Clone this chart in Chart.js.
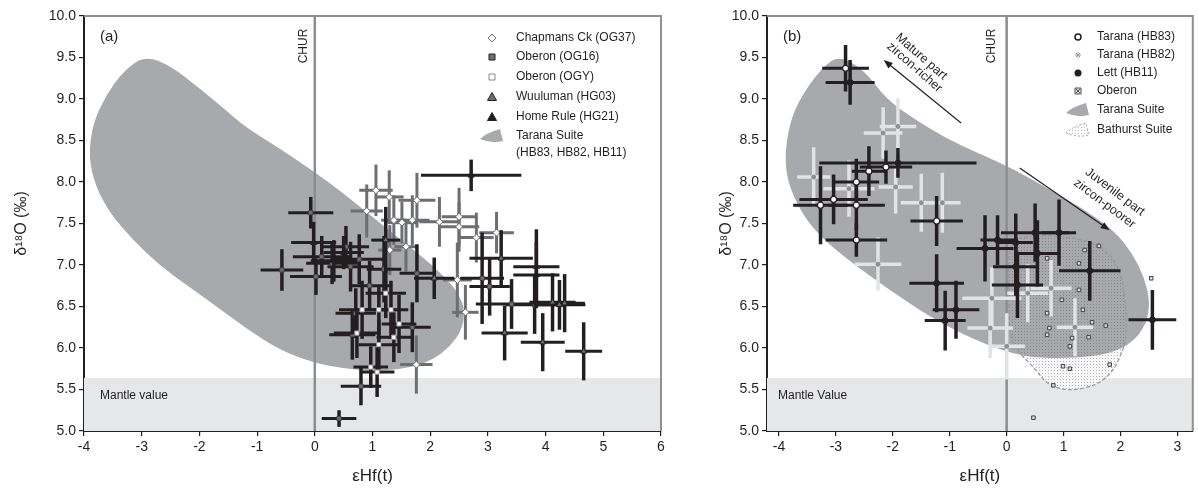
<!DOCTYPE html>
<html>
<head>
<meta charset="utf-8">
<script src="https://cdn.jsdelivr.net/npm/chart.js@4.4.1/dist/chart.umd.min.js"></script>
<style>
  body { margin: 0; background: #fff; width: 1198px; height: 495px; overflow: hidden; position: relative; }
  .panel { position: absolute; top: 0; }
  #wrapA { left: 0; }
  #wrapB { left: 690px; }
</style>
</head>
<body>
<div class="panel" id="wrapA"><canvas id="chartA" width="680" height="495"></canvas></div>
<div class="panel" id="wrapB"><canvas id="chartB" width="508" height="495"></canvas></div>
<script>
// ---- shared look ----
const FONT = "'Liberation Sans', Arial, sans-serif";
const INK = '#231f20';
const SUITE_GREY = '#a7a9ac';
const MANTLE_GREY = '#e6e7e8';
const MID_GREY = '#6d6e71';
const LIGHT_CROSS = '#e2e3e4';
const MANTLE_TOP = 5.64;

// ---- tick labels ----
const yTicks = [5.0, 5.5, 6.0, 6.5, 7.0, 7.5, 8.0, 8.5, 9.0, 9.5, 10.0];
const xTicksA = [-4, -3, -2, -1, 0, 1, 2, 3, 4, 5, 6];
const xTicksB = [-4, -3, -2, -1, 0, 1, 2, 3];

// ---- panel (a) data ----
// Chapmans Ck (OG37)
const chapX  = [0.90, 1.06, 1.29, 1.37, 1.51, 1.58, 1.69, 1.77, 2.16, 2.50, 2.50, 2.80, 3.15, 2.47, 2.61, 1.76, 1.30];
const chapY  = [7.65, 7.90, 7.82, 7.54, 7.51, 7.22, 7.54, 7.78, 7.52, 7.58, 7.46, 7.33, 7.39, 6.82, 6.43, 5.80, 7.18];
const chapXe = [0.28, 0.29, 0.25, 0.22, 0.25, 0.20, 0.30, 0.32, 0.35, 0.30, 0.35, 0.30, 0.30, 0.25, 0.23, 0.28, 0.20];
const chapYe = [0.32, 0.31, 0.32, 0.30, 0.25, 0.30, 0.30, 0.33, 0.30, 0.35, 0.30, 0.30, 0.25, 0.45, 0.33, 0.35, 0.30];
// Oberon (OG16)
const og16X  = [-0.07, -0.57, 0.02, 0.12, 0.54, 0.77, 0.42, 0.80, 0.65, 0.71, 1.69, 1.77, 2.90, 3.03, 3.41, 3.81, 0.30, 0.62, 0.95, 1.20];
const og16Y  = [7.63, 6.94, 6.86, 7.10, 7.22, 7.07, 5.15, 5.54, 6.16, 6.42, 6.25, 6.90, 6.84, 6.74, 6.53, 6.52, 7.02, 6.98, 6.75, 6.95];
const og16Xe = [0.39, 0.37, 0.45, 0.50, 0.40, 0.45, 0.30, 0.35, 0.40, 0.35, 0.32, 0.30, 0.38, 0.35, 0.62, 0.50, 0.45, 0.40, 0.35, 0.30];
const og16Ye = [0.19, 0.25, 0.22, 0.25, 0.25, 0.30, 0.10, 0.23, 0.30, 0.30, 0.30, 0.35, 0.55, 0.35, 0.30, 0.35, 0.25, 0.30, 0.30, 0.40];
// Oberon (OGY)
const ogyX  = [0.97, 1.08, 1.11, 1.46, 0.82, 1.11, 1.23, 1.32, 1.37, 0.73];
const ogyY  = [5.77, 5.71, 6.04, 6.29, 6.46, 6.46, 6.66, 6.46, 6.13, 6.18];
const ogyXe = [0.30, 0.30, 0.35, 0.30, 0.40, 0.30, 0.35, 0.30, 0.30, 0.40];
const ogyYe = [0.25, 0.30, 0.30, 0.35, 0.35, 0.30, 0.30, 0.35, 0.30, 0.30];
// Wuuluman (HG03)
const wuuX  = [2.07, 3.23, 3.84, 4.12, 4.24, 4.33, 3.29, 3.95, 4.66, 1.23];
const wuuY  = [6.84, 7.08, 6.98, 6.55, 6.52, 6.54, 6.18, 6.07, 5.96, 7.30];
const wuuXe = [0.35, 0.55, 0.40, 0.40, 0.45, 0.35, 0.40, 0.38, 0.32, 0.25];
const wuuYe = [0.25, 0.34, 0.45, 0.35, 0.30, 0.35, 0.33, 0.35, 0.35, 0.40];
// Home Rule (HG21)
const homeX  = [2.71, 3.84, -0.02, 0.33, 0.50];
const homeY  = [8.08, 6.88, 7.27, 7.05, 7.15];
const homeXe = [0.87, 0.40, 0.39, 0.40, 0.35];
const homeYe = [0.19, 0.40, 0.25, 0.25, 0.20];
// Tarana Suite field, panel (a)
const suiteAX = [-2.94, -2.5, -2.0, -1.55, -1.2, -0.6, 0.0, 0.5, 1.0, 1.5, 2.0, 2.3, 2.5, 2.6, 2.55, 2.35, 2.05, 1.65, 1.1, 0.5, 0.0, -0.6, -1.2, -1.7, -2.2, -2.7, -3.15, -3.55, -3.8, -3.92, -3.85, -3.62, -3.3];
const suiteAY = [9.52, 9.4, 9.13, 8.87, 8.66, 8.4, 8.12, 7.86, 7.58, 7.3, 7.02, 6.82, 6.65, 6.45, 6.22, 6.02, 5.86, 5.76, 5.72, 5.75, 5.82, 5.97, 6.24, 6.5, 6.75, 7.0, 7.3, 7.62, 7.95, 8.3, 8.7, 9.05, 9.35];

// ---- panel (b) data ----
// Tarana (HB83)
const hb83X  = [-2.83, -2.64, -3.04, -3.27, -2.64, -2.64, -2.12, -2.42, -1.23];
const hb83Y  = [9.37, 8.00, 7.79, 7.72, 7.72, 7.30, 8.18, 8.13, 7.53];
const hb83Xe = [0.41, 0.40, 0.60, 0.48, 0.50, 0.54, 0.46, 0.30, 0.46];
const hb83Ye = [0.28, 0.28, 0.30, 0.47, 0.30, 0.20, 0.20, 0.30, 0.30];
// Tarana (HB82)
const hb82X  = [-2.17, -1.91, -3.39, -2.77, -1.95, -1.50, -1.13, -2.26, -0.26, -0.29, 0.00, 0.37, 0.78, 1.20];
const hb82Y  = [8.59, 8.67, 8.06, 7.92, 7.94, 7.75, 7.75, 7.01, 6.60, 6.24, 6.02, 6.66, 6.72, 6.25];
const hb82Xe = [0.34, 0.32, 0.29, 0.45, 0.30, 0.36, 0.32, 0.41, 0.52, 0.40, 0.32, 0.36, 0.36, 0.32];
const hb82Ye = [0.31, 0.34, 0.36, 0.34, 0.32, 0.35, 0.36, 0.32, 0.37, 0.36, 0.40, 0.35, 0.34, 0.35];
// Lett (HB11)
const lettX  = [-2.75, -1.91, -1.23, -0.89, -1.08, -0.38, 0.16, 0.19, 1.46, 2.56, -0.16, 0.16, 0.50, 0.92, 0.54];
const lettY  = [9.20, 8.23, 6.78, 6.46, 6.33, 7.20, 6.98, 6.76, 6.93, 6.34, 7.30, 7.27, 7.39, 7.39, 7.14];
const lettXe = [0.43, 1.38, 0.48, 0.41, 0.36, 0.50, 0.40, 0.45, 0.54, 0.42, 0.30, 0.30, 0.60, 0.30, 0.40];
const lettYe = [0.27, 0.18, 0.35, 0.35, 0.36, 0.40, 0.35, 0.40, 0.36, 0.36, 0.30, 0.35, 0.35, 0.40, 0.40];
// Oberon (no error bars shown)
const oberX = [1.37, 1.62, 1.27, 1.27, 0.97, 1.34, 0.71, 1.50, 1.74, 0.75, 0.71, 1.15, 1.44, 1.11, 0.99, 1.11, 1.81, 0.82, 0.47, 2.54, 0.71];
const oberY = [7.18, 7.23, 7.02, 6.70, 6.58, 6.46, 6.42, 6.31, 6.27, 6.24, 6.16, 6.12, 6.13, 6.02, 5.78, 5.75, 5.80, 5.55, 5.16, 6.84, 7.08];
// Tarana Suite field, panel (b)
const suiteBX = [-2.94, -2.5, -2.12, -1.6, -1.05, -0.5, 0.14, 0.7, 1.29, 1.88, 2.2, 2.42, 2.52, 2.45, 2.2, 1.8, 1.2, 0.6, 0.1, -0.5, -1.3, -2.1, -2.9, -3.35, -3.62, -3.85, -3.9, -3.78, -3.5, -3.2];
const suiteBY = [9.52, 9.35, 9.0, 8.75, 8.52, 8.35, 8.15, 7.93, 7.7, 7.42, 7.15, 6.85, 6.55, 6.28, 6.06, 5.93, 5.88, 5.88, 5.93, 6.08, 6.35, 6.72, 7.12, 7.4, 7.65, 8.0, 8.35, 8.8, 9.15, 9.4];
// Bathurst Suite field
const bathX = [0.05, 0.6, 1.2, 1.7, 2.0, 2.1, 2.1, 2.0, 1.85, 1.55, 1.05, 0.7, 0.5, 0.25, 0.05, 0.03];
const bathY = [7.32, 7.36, 7.33, 7.22, 6.95, 6.5, 6.1, 5.9, 5.7, 5.54, 5.48, 5.57, 5.75, 5.92, 6.1, 6.8];

// ---- helpers ----
function series(label, xs, ys, xe, ye, style) {
  return Object.assign({
    label: label,
    data: xs.map((v, i) => ({ x: v, y: ys[i] })),
    xErr: xe,
    yErr: ye
  }, style);
}

function smoothClosed(ctx, pts) {
  const n = pts.length;
  const mid = (a, b) => [(a[0] + b[0]) / 2, (a[1] + b[1]) / 2];
  const m0 = mid(pts[n - 1], pts[0]);
  ctx.moveTo(m0[0], m0[1]);
  for (let i = 0; i < n; i++) {
    const p = pts[i];
    const m = mid(p, pts[(i + 1) % n]);
    ctx.quadraticCurveTo(p[0], p[1], m[0], m[1]);
  }
  ctx.closePath();
}

let dotPattern = null;
function getDots(ctx) {
  if (dotPattern) return dotPattern;
  const c = document.createElement('canvas');
  c.width = 3; c.height = 3;
  const g = c.getContext('2d');
  g.fillStyle = 'rgba(80,80,80,0.38)';
  g.fillRect(1, 1, 1, 1);
  dotPattern = ctx.createPattern(c, 'repeat');
  return dotPattern;
}

function blobIcon(ctx, x, y, dotted) {
  ctx.save();
  ctx.beginPath();
  ctx.moveTo(x - 12, y + 3);
  ctx.quadraticCurveTo(x - 6, y - 3, x + 8, y - 7);
  ctx.lineTo(x + 11, y + 5);
  ctx.quadraticCurveTo(x, y + 8, x - 12, y + 3);
  ctx.closePath();
  if (dotted) {
    ctx.fillStyle = getDots(ctx);
    ctx.fill();
    ctx.setLineDash([2, 2]);
    ctx.strokeStyle = '#a5a6a9';
    ctx.lineWidth = 1;
    ctx.stroke();
  } else {
    ctx.fillStyle = SUITE_GREY;
    ctx.fill();
  }
  ctx.restore();
}

function drawMarker(ctx, kind, x, y) {
  ctx.save();
  ctx.lineWidth = 1;
  ctx.beginPath();
  if (kind === 'diamondOpen') {
    ctx.moveTo(x, y - 4); ctx.lineTo(x + 4, y); ctx.lineTo(x, y + 4); ctx.lineTo(x - 4, y); ctx.closePath();
    ctx.fillStyle = '#fff'; ctx.fill(); ctx.strokeStyle = MID_GREY; ctx.stroke();
  } else if (kind === 'squareGrey') {
    ctx.rect(x - 3, y - 3, 6, 6);
    ctx.fillStyle = MID_GREY; ctx.fill(); ctx.strokeStyle = INK; ctx.stroke();
  } else if (kind === 'squareOpen') {
    ctx.rect(x - 3, y - 3, 6, 6);
    ctx.fillStyle = '#fff'; ctx.fill(); ctx.strokeStyle = '#8a8b8e'; ctx.stroke();
  } else if (kind === 'triGrey' || kind === 'triBlack') {
    ctx.moveTo(x, y - 4.5); ctx.lineTo(x + 4.5, y + 3.5); ctx.lineTo(x - 4.5, y + 3.5); ctx.closePath();
    ctx.fillStyle = kind === 'triGrey' ? MID_GREY : INK; ctx.fill(); ctx.strokeStyle = INK; ctx.stroke();
  } else if (kind === 'circleOpen') {
    ctx.arc(x, y, 3, 0, Math.PI * 2);
    ctx.fillStyle = '#fff'; ctx.fill(); ctx.lineWidth = 1.5; ctx.strokeStyle = INK; ctx.stroke();
  } else if (kind === 'star') {
    ctx.strokeStyle = '#9a9b9e';
    for (let k = 0; k < 4; k++) {
      const a = k * Math.PI / 4;
      ctx.moveTo(x - 3 * Math.cos(a), y - 3 * Math.sin(a));
      ctx.lineTo(x + 3 * Math.cos(a), y + 3 * Math.sin(a));
    }
    ctx.stroke();
  } else if (kind === 'circleBlack') {
    ctx.arc(x, y, 3.5, 0, Math.PI * 2);
    ctx.fillStyle = INK; ctx.fill();
  } else if (kind === 'squareX') {
    ctx.rect(x - 3, y - 3, 6, 6);
    ctx.fillStyle = '#d8d9da'; ctx.fill(); ctx.strokeStyle = '#555'; ctx.stroke();
    ctx.beginPath();
    ctx.moveTo(x - 2, y - 2); ctx.lineTo(x + 2, y + 2);
    ctx.moveTo(x + 2, y - 2); ctx.lineTo(x - 2, y + 2);
    ctx.stroke();
  } else if (kind === 'blob') {
    ctx.restore(); blobIcon(ctx, x, y, false); return;
  } else if (kind === 'blobDotted') {
    ctx.restore(); blobIcon(ctx, x, y, true); return;
  }
  ctx.restore();
}

function rotatedText(ctx, text, x, y, deg, size) {
  ctx.save();
  ctx.translate(x, y);
  ctx.rotate(deg * Math.PI / 180);
  ctx.font = size + 'px ' + FONT;
  ctx.fillStyle = INK;
  ctx.textAlign = 'center';
  ctx.textBaseline = 'middle';
  ctx.fillText(text, 0, 0);
  ctx.restore();
}

function arrow(ctx, x1, y1, x2, y2) {
  const ang = Math.atan2(y2 - y1, x2 - x1);
  ctx.save();
  ctx.strokeStyle = INK;
  ctx.fillStyle = INK;
  ctx.lineWidth = 1.2;
  ctx.beginPath();
  ctx.moveTo(x1, y1);
  ctx.lineTo(x2 - 6 * Math.cos(ang), y2 - 6 * Math.sin(ang));
  ctx.stroke();
  ctx.beginPath();
  ctx.moveTo(x2, y2);
  ctx.lineTo(x2 - 9 * Math.cos(ang) + 3.5 * Math.sin(ang), y2 - 9 * Math.sin(ang) - 3.5 * Math.cos(ang));
  ctx.lineTo(x2 - 9 * Math.cos(ang) - 3.5 * Math.sin(ang), y2 - 9 * Math.sin(ang) + 3.5 * Math.cos(ang));
  ctx.closePath();
  ctx.fill();
  ctx.restore();
}

// error bars drawn under each dataset's own markers
const errorBars = {
  id: 'errorBars',
  beforeDatasetDraw(chart, args) {
    const ds = chart.data.datasets[args.index];
    if (!ds.xErr) return;
    const { ctx, chartArea: a } = chart;
    const xs = chart.scales.x, ys = chart.scales.y;
    ctx.save();
    ctx.beginPath();
    ctx.rect(a.left, a.top, a.right - a.left, a.bottom - a.top);
    ctx.clip();
    ctx.strokeStyle = ds.errColor;
    ds.data.forEach((p, i) => {
      const px = xs.getPixelForValue(p.x);
      const py = ys.getPixelForValue(p.y);
      ctx.lineWidth = ds.errWidthH;
      ctx.beginPath();
      ctx.moveTo(xs.getPixelForValue(p.x - ds.xErr[i]), py);
      ctx.lineTo(xs.getPixelForValue(p.x + ds.xErr[i]), py);
      ctx.stroke();
      ctx.lineWidth = ds.errWidthV;
      ctx.beginPath();
      ctx.moveTo(px, ys.getPixelForValue(p.y - ds.yErr[i]));
      ctx.lineTo(px, ys.getPixelForValue(p.y + ds.yErr[i]));
      ctx.stroke();
    });
    ctx.restore();
  }
};

function panelPlugin(cfg) {
  return {
    id: 'panel' + cfg.tag,
    beforeDatasetsDraw(chart) {
      const { ctx, chartArea: a } = chart;
      const xs = chart.scales.x, ys = chart.scales.y;
      ctx.save();
      ctx.beginPath();
      ctx.rect(a.left, a.top, a.right - a.left, a.bottom - a.top);
      ctx.clip();
      // mantle band
      const yb = ys.getPixelForValue(MANTLE_TOP);
      ctx.fillStyle = MANTLE_GREY;
      ctx.fillRect(a.left, yb, a.right - a.left, a.bottom - yb);
      let bathPts = null;
      if (cfg.bathX) {
        bathPts = cfg.bathX.map((v, i) => [xs.getPixelForValue(v), ys.getPixelForValue(cfg.bathY[i])]);
        ctx.beginPath(); smoothClosed(ctx, bathPts);
        ctx.fillStyle = '#f7f7f7'; ctx.fill();
      }
      // Tarana Suite field
      ctx.beginPath();
      smoothClosed(ctx, cfg.suiteX.map((v, i) => [xs.getPixelForValue(v), ys.getPixelForValue(cfg.suiteY[i])]));
      ctx.fillStyle = SUITE_GREY;
      ctx.fill();
      if (bathPts) {
        ctx.beginPath(); smoothClosed(ctx, bathPts);
        ctx.fillStyle = getDots(ctx); ctx.fill();
        ctx.setLineDash([4, 2]);
        ctx.strokeStyle = '#96979a';
        ctx.lineWidth = 1.2;
        ctx.stroke();
        ctx.setLineDash([]);
      }
      // CHUR line
      const x0 = xs.getPixelForValue(0);
      ctx.strokeStyle = '#8c8d90';
      ctx.lineWidth = 2.5;
      ctx.beginPath(); ctx.moveTo(x0, a.top); ctx.lineTo(x0, a.bottom); ctx.stroke();
      ctx.restore();
    },
    afterDraw(chart) {
      const { ctx, chartArea: a } = chart;
      const xs = chart.scales.x, ys = chart.scales.y;
      ctx.save();
      // top and right frame
      ctx.strokeStyle = '#8f9093';
      ctx.lineWidth = 2;
      ctx.beginPath();
      ctx.moveTo(a.left, a.top); ctx.lineTo(a.right, a.top); ctx.lineTo(a.right, a.bottom);
      ctx.stroke();
      // panel label
      ctx.fillStyle = INK;
      ctx.font = '15px ' + FONT;
      ctx.textBaseline = 'middle';
      ctx.fillText(cfg.tag, a.left + cfg.tagDx, a.top + 21);
      // mantle label
      ctx.font = '12px ' + FONT;
      ctx.fillText(cfg.mantleText, a.left + cfg.mantleDx, ys.getPixelForValue(5.42));
      // CHUR label
      rotatedText(ctx, 'CHUR', xs.getPixelForValue(0) - cfg.churDx, a.top + 30, -90, 12);
      // legend
      cfg.legend.forEach(it => {
        if (it.kind) drawMarker(ctx, it.kind, cfg.legendMarkX, it.y);
        ctx.font = '12px ' + FONT;
        ctx.fillStyle = INK;
        ctx.textBaseline = 'middle';
        ctx.textAlign = 'left';
        ctx.fillText(it.label, cfg.legendTextX, it.y);
      });
      // trend arrows
      (cfg.arrows || []).forEach(ar => {
        arrow(ctx, xs.getPixelForValue(ar.from[0]), ys.getPixelForValue(ar.from[1]),
                   xs.getPixelForValue(ar.to[0]), ys.getPixelForValue(ar.to[1]));
        ar.text.forEach(t => rotatedText(ctx, t.s, xs.getPixelForValue(t.x), ys.getPixelForValue(t.y), ar.angle, 12.5));
      });
      ctx.restore();
    }
  };
}

function scales(xMin, xMax, xTicks, yWidth, yTitlePad) {
  return {
    x: {
      type: 'linear', min: xMin, max: xMax,
      afterBuildTicks: s => { s.ticks = xTicks.map(v => ({ value: v })); },
      afterFit: s => { s.height = 64; },
      border: { display: true, color: INK, width: 2 },
      grid: { display: true, drawOnChartArea: false, drawTicks: true, tickLength: 5, tickColor: INK, lineWidth: 1.2 },
      ticks: { color: INK, padding: 3, font: { family: FONT, size: 14 }, callback: v => String(v) },
      title: { display: true, text: 'εHf(t)', color: INK, font: { family: FONT, size: 17 }, padding: { top: 0, bottom: 8 } }
    },
    y: {
      type: 'linear', min: 5, max: 10,
      afterBuildTicks: s => { s.ticks = yTicks.map(v => ({ value: v })); },
      afterFit: s => { s.width = yWidth; },
      border: { display: true, color: INK, width: 2 },
      grid: { display: true, drawOnChartArea: false, drawTicks: true, tickLength: 5, tickColor: INK, lineWidth: 1.2 },
      ticks: { color: INK, padding: 3, font: { family: FONT, size: 14 }, callback: v => Number(v).toFixed(1) },
      title: { display: true, text: 'δ¹⁸O (‰)', color: INK, font: { family: FONT, size: 16 }, padding: { top: yTitlePad, bottom: 0 } }
    }
  };
}

const blackCross = { errColor: INK, errWidthH: 3, errWidthV: 3.5 };

// ---- panel (a) ----
new Chart(document.getElementById('chartA'), {
  type: 'scatter',
  data: {
    datasets: [
      series('Home Rule (HG21)', homeX, homeY, homeXe, homeYe, Object.assign({
        pointStyle: 'triangle', pointRadius: 3.5, backgroundColor: INK, borderColor: INK, borderWidth: 1 }, blackCross)),
      series('Wuuluman (HG03)', wuuX, wuuY, wuuXe, wuuYe, Object.assign({
        pointStyle: 'triangle', pointRadius: 3.5, backgroundColor: MID_GREY, borderColor: INK, borderWidth: 1 }, blackCross)),
      series('Oberon (OGY)', ogyX, ogyY, ogyXe, ogyYe, Object.assign({
        pointStyle: 'rect', pointRadius: 3, backgroundColor: '#ffffff', borderColor: '#9a9b9e', borderWidth: 1 }, blackCross)),
      series('Oberon (OG16)', og16X, og16Y, og16Xe, og16Ye, Object.assign({
        pointStyle: 'rect', pointRadius: 3, backgroundColor: MID_GREY, borderColor: '#444', borderWidth: 1 }, blackCross)),
      series('Chapmans Ck (OG37)', chapX, chapY, chapXe, chapYe, {
        pointStyle: 'rectRot', pointRadius: 3.5, backgroundColor: '#ffffff', borderColor: MID_GREY, borderWidth: 1,
        errColor: MID_GREY, errWidthH: 3, errWidthV: 3 })
    ]
  },
  options: {
    responsive: false,
    animation: false,
    events: [],
    layout: { padding: { left: 0, top: 16, right: 19, bottom: 0 } },
    plugins: { legend: { display: false }, tooltip: { enabled: false } },
    scales: scales(-4, 6, xTicksA, 84, 12)
  },
  plugins: [errorBars, panelPlugin({
    tag: '(a)', tagDx: 16, mantleText: 'Mantle value', mantleDx: 16, churDx: 11,
    suiteX: suiteAX, suiteY: suiteAY,
    legendMarkX: 492, legendTextX: 516,
    legend: [
      { label: 'Chapmans Ck (OG37)', kind: 'diamondOpen', y: 38 },
      { label: 'Oberon (OG16)', kind: 'squareGrey', y: 57 },
      { label: 'Oberon (OGY)', kind: 'squareOpen', y: 77 },
      { label: 'Wuuluman (HG03)', kind: 'triGrey', y: 97 },
      { label: 'Home Rule (HG21)', kind: 'triBlack', y: 117 },
      { label: 'Tarana Suite', kind: 'blob', y: 136 },
      { label: '(HB83, HB82, HB11)', kind: null, y: 153 }
    ]
  })]
});

// ---- panel (b) ----
new Chart(document.getElementById('chartB'), {
  type: 'scatter',
  data: {
    datasets: [
      series('Oberon', oberX, oberY, null, null, {
        pointStyle: 'rect', pointRadius: 2.5, backgroundColor: '#d8d9da', borderColor: '#444', borderWidth: 1 }),
      series('Tarana (HB83)', hb83X, hb83Y, hb83Xe, hb83Ye, Object.assign({
        pointStyle: 'circle', pointRadius: 3, backgroundColor: '#ffffff', borderColor: INK, borderWidth: 1.2 }, blackCross)),
      series('Lett (HB11)', lettX, lettY, lettXe, lettYe, Object.assign({
        pointStyle: 'circle', pointRadius: 3, backgroundColor: INK, borderColor: INK, borderWidth: 1 }, blackCross)),
      series('Tarana (HB82)', hb82X, hb82Y, hb82Xe, hb82Ye, {
        pointStyle: 'circle', pointRadius: 2, backgroundColor: '#8e8f92', borderColor: '#8e8f92', borderWidth: 1,
        errColor: LIGHT_CROSS, errWidthH: 3.5, errWidthV: 3.5 })
    ]
  },
  options: {
    responsive: false,
    animation: false,
    events: [],
    layout: { padding: { left: 0, top: 16, right: 1, bottom: 0 } },
    plugins: { legend: { display: false }, tooltip: { enabled: false } },
    scales: scales(-4.21, 3.27, xTicksB, 77, 27)
  },
  plugins: [errorBars, panelPlugin({
    tag: '(b)', tagDx: 16, mantleText: 'Mantle Value', mantleDx: 11, churDx: 15,
    suiteX: suiteBX, suiteY: suiteBY, bathX: bathX, bathY: bathY,
    legendMarkX: 388, legendTextX: 407,
    legend: [
      { label: 'Tarana (HB83)', kind: 'circleOpen', y: 37 },
      { label: 'Tarana (HB82)', kind: 'star', y: 55 },
      { label: 'Lett (HB11)', kind: 'circleBlack', y: 73 },
      { label: 'Oberon', kind: 'squareX', y: 91 },
      { label: 'Tarana Suite', kind: 'blob', y: 110 },
      { label: 'Bathurst Suite', kind: 'blobDotted', y: 130 }
    ],
    arrows: [
      { from: [-0.80, 8.71], to: [-2.16, 9.47], angle: 41,
        text: [{ s: 'Mature part', x: -1.50, y: 9.51 }, { s: 'zircon-richer', x: -1.62, y: 9.38 }] },
      { from: [0.23, 8.17], to: [1.81, 7.42], angle: 37,
        text: [{ s: 'Juvenile part', x: 1.90, y: 7.88 }, { s: 'zircon-poorer', x: 1.72, y: 7.74 }] }
    ]
  })]
});
</script>
</body>
</html>
